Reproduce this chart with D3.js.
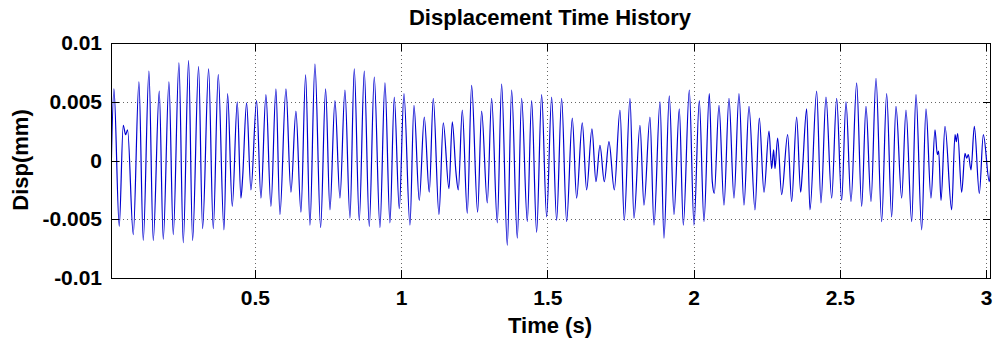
<!DOCTYPE html>
<html>
<head>
<meta charset="utf-8">
<script src="https://cdn.jsdelivr.net/npm/d3@7"></script>
<style>
  html, body { margin: 0; padding: 0; background: #fff; }
  svg { display: block; }
  text { font-family: "Liberation Sans", Arial, "DejaVu Sans", sans-serif; font-weight: bold; fill: #000; }
</style>
</head>
<body>
<div id="chart"></div>
<script>
// ---- data ----
const chartTitle = "Displacement Time History";
const xLabel = "Time (s)";
const yLabel = "Disp(mm)";

const xTickValues = [0.5, 1, 1.5, 2, 2.5, 3];
const xTickLabels = ["0.5", "1", "1.5", "2", "2.5", "3"];
const yTickValues = [-0.01, -0.005, 0, 0.005, 0.01];
const yTickLabels = ["-0.01", "-0.005", "0", "0.005", "0.01"];

const timeS = [
  0.0078, 0.0178, 0.0360, 0.0497, 0.0577, 0.0645, 0.0839, 0.1033, 0.1181, 0.1375,
  0.1523, 0.1728, 0.1865, 0.2059, 0.2207, 0.2401, 0.2549, 0.2731, 0.2868, 0.3073,
  0.3210, 0.3416, 0.3575, 0.3746, 0.3940, 0.4065, 0.4225, 0.4396, 0.4521, 0.4578,
  0.4715, 0.4863, 0.5057, 0.5205, 0.5376, 0.5547, 0.5718, 0.5855, 0.6060, 0.6231,
  0.6402, 0.6573, 0.6733, 0.6881, 0.7052, 0.7246, 0.7417, 0.7565, 0.7736, 0.7907,
  0.8078, 0.8249, 0.8397, 0.8568, 0.8739, 0.8910, 0.9081, 0.9275, 0.9446, 0.9617,
  0.9765, 0.9936, 1.0096, 1.0301, 1.0438, 1.0620, 1.0791, 1.0962, 1.1099, 1.1293,
  1.1441, 1.1635, 1.1749, 1.1874, 1.1954, 1.2091, 1.2262, 1.2410, 1.2615, 1.2752,
  1.2946, 1.3094, 1.3288, 1.3436, 1.3630, 1.3778, 1.3972, 1.4120, 1.4314, 1.4462,
  1.4633, 1.4804, 1.4975, 1.5146, 1.5317, 1.5488, 1.5659, 1.5853, 1.6001, 1.6194,
  1.6343, 1.6525, 1.6662, 1.6799, 1.6947, 1.7107, 1.7289, 1.7483, 1.7631, 1.7825,
  1.7962, 1.8167, 1.8304, 1.8509, 1.8646, 1.8851, 1.8988, 1.9170, 1.9330, 1.9512,
  1.9649, 1.9854, 2.0014, 2.0196, 2.0356, 2.0538, 2.0640, 2.0709, 2.0869, 2.1040,
  2.1211, 2.1382, 2.1553, 2.1724, 2.1895, 2.2100, 2.2248, 2.2408, 2.2579, 2.2670,
  2.2738, 2.2784, 2.2875, 2.3012, 2.3217, 2.3354, 2.3525, 2.3662, 2.3719, 2.3867,
  2.3981, 2.4209, 2.4357, 2.4528, 2.4722, 2.4893, 2.5064, 2.5212, 2.5383, 2.5577,
  2.5748, 2.5896, 2.6067, 2.6238, 2.6432, 2.6603, 2.6774, 2.6922, 2.7116, 2.7264,
  2.7458, 2.7606, 2.7800, 2.7948, 2.8119, 2.8256, 2.8336, 2.8381, 2.8461, 2.8598,
  2.8826, 2.8940, 2.8985, 2.9031, 2.9168, 2.9282, 2.9339, 2.9396, 2.9487, 2.9601,
  2.9772, 2.9909, 3.0114, 3.0171
];

const dispMm = [
  -0.0015, 0.0061, -0.0056, 0.0030, 0.0022, 0.0026, -0.0063, 0.0067, -0.0068, 0.0076,
  -0.0068, 0.0059, -0.0067, 0.0067, -0.0063, 0.0083, -0.0070, 0.0085, -0.0068, 0.0080,
  -0.0058, 0.0078, -0.0058, 0.0073, -0.0059, 0.0057, -0.0039, 0.0050, -0.0032, -0.0015,
  0.0049, -0.0025, 0.0051, -0.0032, 0.0056, -0.0039, 0.0061, -0.0046, 0.0061, -0.0027,
  0.0042, -0.0044, 0.0073, -0.0055, 0.0082, -0.0057, 0.0061, -0.0042, 0.0051, -0.0032,
  0.0060, -0.0049, 0.0078, -0.0051, 0.0076, -0.0056, 0.0071, -0.0057, 0.0066, -0.0053,
  0.0054, -0.0041, 0.0057, -0.0055, 0.0047, -0.0034, 0.0037, -0.0027, 0.0053, -0.0046,
  0.0032, -0.0024, 0.0033, -0.0010, -0.0025, 0.0043, -0.0045, 0.0064, -0.0044, 0.0042,
  -0.0036, 0.0053, -0.0053, 0.0065, -0.0072, 0.0060, -0.0066, 0.0053, -0.0052, 0.0051,
  -0.0061, 0.0056, -0.0048, 0.0054, -0.0051, 0.0053, -0.0052, 0.0036, -0.0032, 0.0032,
  -0.0025, 0.0027, -0.0018, 0.0013, -0.0018, 0.0016, -0.0025, 0.0043, -0.0051, 0.0053,
  -0.0049, 0.0030, -0.0038, 0.0037, -0.0055, 0.0050, -0.0066, 0.0055, -0.0046, 0.0044,
  -0.0055, 0.0060, -0.0055, 0.0051, -0.0052, 0.0057, -0.0018, -0.0028, 0.0047, -0.0038,
  0.0053, -0.0032, 0.0057, -0.0038, 0.0046, -0.0042, 0.0036, -0.0027, 0.0025, -0.0007,
  0.0009, -0.0007, 0.0019, -0.0029, 0.0022, -0.0035, 0.0037, -0.0027, -0.0010, 0.0044,
  -0.0042, 0.0059, -0.0036, 0.0054, -0.0032, 0.0053, -0.0034, 0.0050, -0.0035, 0.0066,
  -0.0039, 0.0046, -0.0035, 0.0070, -0.0052, 0.0057, -0.0048, 0.0046, -0.0032, 0.0043,
  -0.0052, 0.0056, -0.0059, 0.0044, -0.0032, 0.0026, 0.0005, 0.0008, -0.0034, 0.0029,
  -0.0042, 0.0022, 0.0016, 0.0023, -0.0027, 0.0006, 0.0002, 0.0005, -0.0008, 0.0029,
  -0.0028, 0.0022, -0.0018, -0.0001
];

// ---- layout ----
const W = 993, H = 340;
const plot = { left: 111, right: 991, top: 43, bottom: 278 };

const data = timeS.map((t, i) => ({ t, v: dispMm[i] }));

const x = d3.scaleLinear().domain([timeS[0], timeS[timeS.length - 1]]).range([plot.left, plot.right]);
const y = d3.scaleLinear().domain([-0.01, 0.01]).range([plot.bottom, plot.top]);

const svg = d3.select("#chart").append("svg")
  .attr("width", W).attr("height", H)
  .attr("viewBox", `0 0 ${W} ${H}`);

svg.append("rect").attr("width", W).attr("height", H).attr("fill", "#fff");

// grid
const grid = svg.append("g").attr("stroke", "#666").attr("stroke-width", 1)
  .attr("stroke-dasharray", "1,3").attr("shape-rendering", "crispEdges");
grid.selectAll("line.gx").data(xTickValues).enter().append("line")
  .attr("x1", d => Math.round(x(d)) + 0.5).attr("x2", d => Math.round(x(d)) + 0.5)
  .attr("y1", plot.top).attr("y2", plot.bottom);
grid.selectAll("line.gy").data(yTickValues.filter(d => d > -0.01 && d < 0.01)).enter().append("line")
  .attr("y1", d => Math.round(y(d)) + 0.5).attr("y2", d => Math.round(y(d)) + 0.5)
  .attr("x1", plot.left).attr("x2", plot.right);

// clip
svg.append("clipPath").attr("id", "clip").append("rect")
  .attr("x", plot.left).attr("y", plot.top)
  .attr("width", plot.right - plot.left).attr("height", plot.bottom - plot.top);

// signal
const line = d3.line().x(d => x(d.t)).y(d => y(d.v)).curve(d3.curveMonotoneX);
svg.append("path").datum(data)
  .attr("clip-path", "url(#clip)")
  .attr("fill", "none").attr("stroke", "#0000d0").attr("stroke-width", 1.2)
  .attr("stroke-linejoin", "round")
  .attr("d", line);

// axes
const fs = 21;
const xAxis = d3.axisBottom(x).tickValues(xTickValues)
  .tickFormat((d, i) => xTickLabels[i]).tickSizeInner(-8).tickSizeOuter(0).tickPadding(12);
const gx = svg.append("g").attr("transform", `translate(0,${plot.bottom})`).call(xAxis);
const xAxisTop = d3.axisTop(x).tickValues(xTickValues).tickFormat("").tickSizeInner(-8).tickSizeOuter(0);
const gxt = svg.append("g").attr("transform", `translate(0,${plot.top})`).call(xAxisTop);

const yAxis = d3.axisLeft(y).tickValues(yTickValues)
  .tickFormat((d, i) => yTickLabels[i]).tickSizeInner(-8).tickSizeOuter(0).tickPadding(9);
const gy = svg.append("g").attr("transform", `translate(${plot.left},0)`).call(yAxis);
const yAxisRight = d3.axisRight(y).tickValues(yTickValues).tickFormat("").tickSizeInner(-8).tickSizeOuter(0);
const gyr = svg.append("g").attr("transform", `translate(${plot.right},0)`).call(yAxisRight);

[gx, gxt, gy, gyr].forEach(g => {
  g.select(".domain").remove();
  g.selectAll("line").attr("stroke", "#000").attr("shape-rendering", "crispEdges");
  g.selectAll("text").attr("font-size", fs).attr("font-family", null).attr("fill", "#000");
});

// box
svg.append("rect")
  .attr("x", plot.left + 0.5).attr("y", plot.top + 0.5)
  .attr("width", plot.right - plot.left - 1).attr("height", plot.bottom - plot.top)
  .attr("fill", "none").attr("stroke", "#000").attr("stroke-width", 1)
  .attr("shape-rendering", "crispEdges");

// title and labels
svg.append("text").attr("x", 550).attr("y", 25).attr("text-anchor", "middle")
  .attr("font-size", 22).text(chartTitle);
svg.append("text").attr("x", 550).attr("y", 333).attr("text-anchor", "middle")
  .attr("font-size", 22).text(xLabel);
svg.append("text").attr("transform", "translate(28,160) rotate(-90)").attr("text-anchor", "middle")
  .attr("font-size", 22).text(yLabel);
</script>
</body>
</html>
